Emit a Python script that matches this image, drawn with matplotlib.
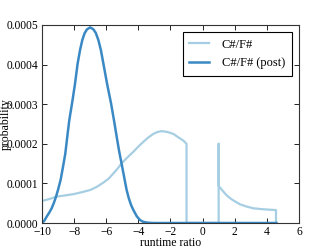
import matplotlib
matplotlib.use('Agg')
import matplotlib.pyplot as plt
from matplotlib.ticker import FormatStrFormatter

# values
pre_x = [-10, -10, -9.5, -9.13, -8.5, -8, -7.5, -7, -6.6, -6.18, -5.85, -5.56, -5.3,
         -5.04, -4.7, -4.31, -4.0, -3.69, -3.38, -3.07, -2.8, -2.55, -2.2, -1.82, -1.5,
         -1.2, -1, -1, 1, 1, 1, 1.15, 1.3, 1.45, 1.6, 1.8, 2.0, 2.33, 2.7, 3.16, 3.7,
         4.2, 4.57, 4.57]
pre_y = [0, 0.0000556, 0.000061, 0.0000664, 0.00007, 0.0000732, 0.000078, 0.0000833,
         0.000091, 0.000102, 0.000112, 0.000125, 0.000137, 0.000151, 0.000165, 0.00018,
         0.000193, 0.000205, 0.000216, 0.000225, 0.00023, 0.000232, 0.00023, 0.000225,
         0.000216, 0.000208, 0.0002, 0, 0, 0.0002, 0.000094, 0.000086, 0.000079,
         0.000072, 0.0000664, 0.00006, 0.000055, 0.0000472, 0.000042, 0.0000371,
         0.000035, 0.0000335, 0.0000328, 0]

post_x = [-10, -9.85, -9.71, -9.55, -9.4, -9.25, -9.13, -9.0, -8.84, -8.7, -8.55, -8.42,
          -8.3, -8.13, -7.95, -7.78, -7.63, -7.49, -7.35, -7.2, -7.0, -6.8, -6.65, -6.49,
          -6.33, -6.18, -5.95, -5.7, -5.52, -5.35, -5.2, -5.04, -4.88, -4.73, -4.6, -4.45,
          -4.31, -4.1, -3.9, -3.7, -3.45, -3.2, -3.0, 4.6]
post_y = [0, 0.000006, 0.000016, 0.000026, 0.000037, 0.000052, 0.000066, 0.000084,
          0.000109, 0.00014, 0.000175, 0.00022, 0.00026, 0.000302, 0.00035, 0.000403,
          0.000437, 0.000462, 0.000479, 0.000489, 0.000494, 0.000489, 0.00048, 0.000462,
          0.000436, 0.000403, 0.000352, 0.000302, 0.00026, 0.000218, 0.000182, 0.000149,
          0.000115, 0.0000833, 0.000063, 0.000045, 0.0000328, 0.000017, 0.0000076,
          0.000003, 0.000001, 0.0000002, 0, 0]

plt.rcParams['font.family'] = ['Liberation Serif', 'DejaVu Serif']
plt.rcParams['font.size'] = 8
plt.rcParams['xtick.direction'] = 'in'
plt.rcParams['ytick.direction'] = 'in'
plt.rcParams['xtick.top'] = True
plt.rcParams['ytick.right'] = True

fig = plt.figure(figsize=(3.32, 2.49), dpi=100)
ax = fig.add_axes([0.1265, 0.1044, 0.774, 0.7952])

ax.plot(pre_x, pre_y, color='#a6cee3', lw=1.6, label='C#/F#')
ax.plot(post_x, post_y, color='#3a89c4', lw=1.8, label='C#/F# (post)')

ax.set_xlim(-10, 6)
ax.set_ylim(0, 0.0005)
ax.set_xticks(range(-10, 7, 2))
ax.set_yticks([0, 0.0001, 0.0002, 0.0003, 0.0004, 0.0005])
ax.yaxis.set_major_formatter(FormatStrFormatter('%.4f'))
ax.tick_params(length=3.5, width=0.6, pad=2.5, labelsize=8.3)
for s in ax.spines.values():
    s.set_linewidth(0.8)
    s.set_color('#333333')

ax.set_xlabel('runtime ratio', fontsize=8.5, labelpad=-1)
ax.set_ylabel('probability', fontsize=8.5)
ax.yaxis.set_label_coords(-0.117, 0.5)

leg = ax.legend(loc='upper right', fancybox=False, framealpha=1, edgecolor='black',
                borderaxespad=0.55, handlelength=1.6, handletextpad=1.0,
                borderpad=0.55, fontsize=9)
leg.get_frame().set_linewidth(0.8)

fig.savefig('out.png', dpi=100)
